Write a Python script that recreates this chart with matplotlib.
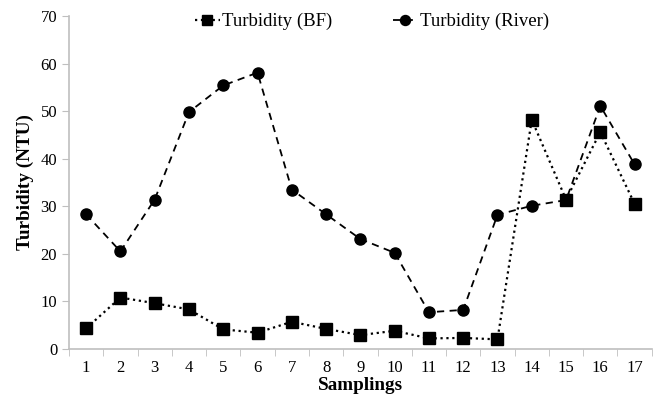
import matplotlib
matplotlib.use("Agg")
import matplotlib.pyplot as plt
from matplotlib.ticker import FixedLocator, NullFormatter

# data
samplings = list(range(1, 18))
turbidity_bf = [4.3, 10.8, 9.6, 8.3, 4.1, 3.4, 5.7, 4.2, 2.9, 3.8, 2.2, 2.3, 2.0, 48.2, 31.4, 45.6, 30.5]
turbidity_river = [28.3, 20.5, 31.4, 49.8, 55.4, 58.1, 33.5, 28.3, 23.1, 20.2, 7.7, 8.2, 28.2, 30.1, 31.3, 51.1, 38.8]

plt.rcParams["font.family"] = ["Liberation Serif", "DejaVu Serif"]

fig = plt.figure(figsize=(6.57, 4.01), dpi=100)
ax = fig.add_axes([0.105, 0.130, 0.887, 0.830])

ax.plot(samplings, turbidity_bf, color="black", linestyle=":", linewidth=1.6,
        marker="s", markersize=8, label="Turbidity (BF)")
ax.plot(samplings, turbidity_river, color="black", linestyle=(0, (4, 3)), linewidth=1.3,
        marker="o", markersize=8, label="Turbidity (River)")

ax.set_xlim(0.5, 17.5)
ax.set_ylim(0, 70)
ax.set_yticks(range(0, 71, 10))
ax.set_xticks(samplings)
ax.xaxis.set_minor_locator(FixedLocator([i + 0.5 for i in range(0, 18)]))
ax.xaxis.set_minor_formatter(NullFormatter())
ax.tick_params(axis="x", which="major", length=0, labelsize=12, pad=8)
ax.tick_params(axis="x", which="minor", length=5, color="#bfbfbf", direction="out")
ax.tick_params(axis="y", length=5, color="#bfbfbf", labelsize=12, direction="out")

for side in ["top", "right"]:
    ax.spines[side].set_visible(False)
for side in ["left", "bottom"]:
    ax.spines[side].set_color("#bfbfbf")
    ax.spines[side].set_linewidth(1.2)

ax.set_xlabel("Samplings", fontsize=13.8, fontweight="bold", labelpad=1)
ax.set_ylabel("Turbidity (NTU)", fontsize=13.8, fontweight="bold", labelpad=5)

ax.legend(loc="upper center", bbox_to_anchor=(0.52, 1.06), ncol=2, frameon=False,
          fontsize=13.5, handlelength=1.3, handletextpad=0.15, columnspacing=3.2, markerscale=0.9)

fig.savefig("out.png", dpi=100)
